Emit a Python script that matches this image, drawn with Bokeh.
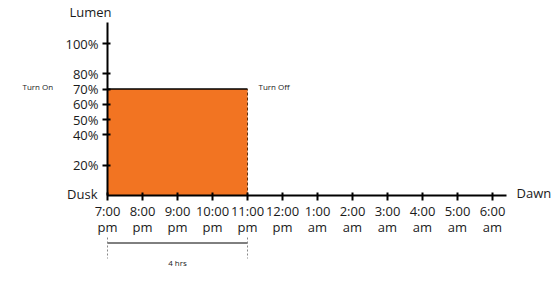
from bokeh.plotting import figure
from bokeh.models import Range1d, LinearAxis, FixedTicker, Label, Arrow
from bokeh.embed import file_html
from bokeh.resources import INLINE

# ---- data ----
hours = list(range(12))
hour_labels = ["7:00\npm", "8:00\npm", "9:00\npm", "10:00\npm", "11:00\npm", "12:00\npm",
               "1:00\nam", "2:00\nam", "3:00\nam", "4:00\nam", "5:00\nam", "6:00\nam"]
lumen_ticks = [20, 40, 50, 60, 70, 80, 100]
lumen_labels = ["20%", "40%", "50%", "60%", "70%", "80%", "100%"]
on_start = [0]   # 7:00 pm
on_end = [4]     # 11:00 pm
on_level = [70]  # 70 % lumen
duration_label = "4 hrs"

FONT = "Open Sans"
ORANGE = "#F27422"

PX_X = 35.0    # pixels per hour
PX_Y = 1.52    # pixels per percent

p = figure(width=554, height=284,
           x_range=Range1d(-107 / PX_X, 447 / PX_X),
           y_range=Range1d(-89 / PX_Y, 195 / PX_Y),
           output_backend="svg", toolbar_location=None,
           x_axis_type=None, y_axis_type=None,
           min_border=0, min_border_left=0, min_border_bottom=0,
           min_border_top=0, min_border_right=0)
p.grid.visible = False
p.outline_line_color = None
p.background_fill_color = "white"
p.border_fill_color = "white"

# bar
p.quad(left=on_start, right=on_end, bottom=[0], top=on_level,
       fill_color=ORANGE, line_color=None)
p.segment(x0=on_start, y0=on_level, x1=on_end, y1=on_level,
          line_color="black", line_width=1.5)
p.segment(x0=on_end, y0=[0], x1=on_end, y1=on_level,
          line_color="#5a3010", line_width=1, line_dash="3 2")

# axes
xa = LinearAxis(ticker=FixedTicker(ticks=hours),
                major_label_overrides={h: l for h, l in zip(hours, hour_labels)},
                bounds=(0, 11.4), fixed_location=0)
ya = LinearAxis(ticker=FixedTicker(ticks=lumen_ticks),
                major_label_overrides={t: l for t, l in zip(lumen_ticks, lumen_labels)},
                bounds=(0, 114), fixed_location=0)
for ax in (xa, ya):
    ax.axis_line_width = 2
    ax.axis_line_color = "black"
    ax.major_tick_line_width = 2
    ax.major_tick_line_color = "black"
    ax.major_tick_in = 3
    ax.major_tick_out = 5
    ax.minor_tick_line_color = None
    ax.major_label_text_font = FONT
    ax.major_label_text_font_size = "13px"
    ax.major_label_text_color = "#1a1a1a"
xa.major_label_standoff = 1
xa.major_label_text_line_height = 0.9
ya.major_label_standoff = 4
p.add_layout(xa, "below")
p.add_layout(ya, "left")

def lab(x, y, text, size, align="center"):
    p.add_layout(Label(x=x, y=y, text=text, text_font=FONT, text_font_size=size,
                       text_align=align, text_baseline="middle", text_color="#1a1a1a"))

lab(-17 / PX_X, 184 / PX_Y, "Lumen", "13px")
lab(-10 / PX_X, 2 / PX_Y, "Dusk", "13px", "right")
lab(409 / PX_X, 3 / PX_Y, "Dawn", "13px", "left")
lab(-85 / PX_X, on_level[0] + 1.5, "Turn On", "8px", "left")
lab(on_end[0] + 11 / PX_X, on_level[0] + 1.5, "Turn Off", "8px", "left")

# duration bracket
y_br = -47.5 / PX_Y
p.add_layout(Arrow(end=None, start=None, x_start=on_start[0], y_start=y_br,
                   x_end=on_end[0], y_end=y_br, line_color="black", line_width=1))
for xv in (on_start[0], on_end[0]):
    p.add_layout(Arrow(end=None, start=None, x_start=xv, y_start=-42 / PX_Y,
                       x_end=xv, y_end=-63 / PX_Y, line_color="#888888",
                       line_width=1, line_dash="2 2"))
lab((on_start[0] + on_end[0]) / 2, -66.5 / PX_Y, duration_label, "8px")

open("out.html", "w").write(file_html(p, INLINE))
